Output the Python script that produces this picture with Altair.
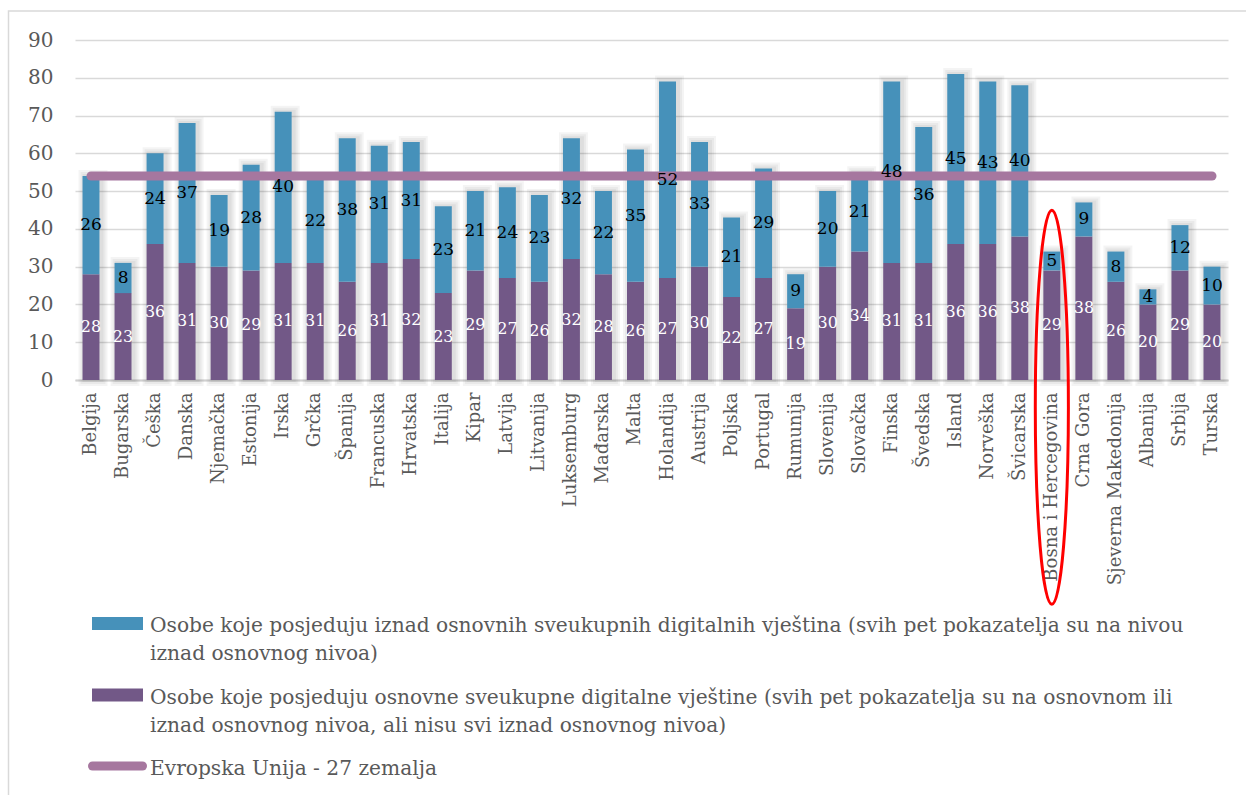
import altair as alt
import pandas as pd

countries = ["Belgija", "Bugarska", "Češka", "Danska", "Njemačka", "Estonija", "Irska",
             "Grčka", "Španija", "Francuska", "Hrvatska", "Italija", "Kipar", "Latvija",
             "Litvanija", "Luksemburg", "Mađarska", "Malta", "Holandija", "Austrija",
             "Poljska", "Portugal", "Rumunija", "Slovenija", "Slovačka", "Finska", "Švedska",
             "Island", "Norveška", "Švicarska", "Bosna i Hercegovina", "Crna Gora",
             "Sjeverna Makedonija", "Albanija", "Srbija", "Turska"]
basic = [28, 23, 36, 31, 30, 29, 31, 31, 26, 31, 32, 23, 29, 27, 26, 32, 28, 26, 27, 30,
         22, 27, 19, 30, 34, 31, 31, 36, 36, 38, 29, 38, 26, 20, 29, 20]
above = [26, 8, 24, 37, 19, 28, 40, 22, 38, 31, 31, 23, 21, 24, 23, 32, 22, 35, 52, 33,
         21, 29, 9, 20, 21, 48, 36, 45, 43, 40, 5, 9, 8, 4, 12, 10]
EU_AVG = 54
highlight = ["Bosna i Hercegovina"]
highlight_center = [-7.2]
y_ticks = [0, 10, 20, 30, 40, 50, 60, 70, 80, 90]

legend_labels = [
    "Osobe koje posjeduju iznad osnovnih sveukupnih digitalnih vještina (svih pet pokazatelja su na nivou|iznad osnovnog nivoa)",
    "Osobe koje posjeduju osnovne sveukupne digitalne vještine (svih pet pokazatelja su na osnovnom ili|iznad osnovnog nivoa, ali nisu svi iznad osnovnog nivoa)",
    "Evropska Unija - 27 zemalja",
]
legend_kind = ["bar", "bar", "line"]

BLUE = "#4691BA"
PURPLE = "#725887"
LINE = "#A6779F"
GRAY = "#595959"
FONT = "DejaVu Serif"

df = pd.DataFrame({"country": countries, "basic": basic, "above": above,
                   "eu": [EU_AVG] * len(countries)})
legend_df = pd.DataFrame({"row": [0, 1, 2], "label": legend_labels, "kind": legend_kind,
                          "color": [BLUE, PURPLE, LINE]})
hl_df = pd.DataFrame({"country": highlight, "yc": highlight_center})

x_enc = alt.X("country:N", sort=countries,
              scale=alt.Scale(paddingInner=0.47, paddingOuter=0.235),
              axis=alt.Axis(title=None, labelAngle=-90, ticks=False, labelPadding=12,
                            labelFont=FONT, labelFontSize=18, labelColor=GRAY,
                            labelLimit=400, labelOverlap=False,
                            domainColor="#D0D0D0", domainWidth=2))
y_scale = alt.Scale(domain=[0, 90], nice=False, zero=True)
y_axis = alt.Axis(title=None, values=y_ticks, ticks=False, domain=False,
                  labelPadding=22, labelFont=FONT, labelFontSize=20, labelColor=GRAY,
                  labelOverlap=False, gridColor="#D9D9D9", gridWidth=1.5)


def Y(field):
    return alt.Y(field, scale=y_scale, axis=y_axis)


base = alt.Chart(df).transform_calculate(
    top="datum.basic + datum.above",
    mid_basic="datum.basic / 2",
    mid_above="datum.basic + datum.above / 2",
)

shadows = [
    base.mark_bar(fillOpacity=0, stroke="#000000", strokeOpacity=0.045, strokeWidth=w,
                  xOffset=2).encode(x=x_enc, y=Y("top:Q"))
    for w in (12, 8, 4)
]
bars_basic = base.mark_bar(color=PURPLE).encode(x=x_enc, y=Y("basic:Q"))
bars_above = base.mark_bar(color=BLUE).encode(x=x_enc, y=Y("basic:Q"), y2="top:Q")
eu_line = base.mark_line(color=LINE, strokeWidth=9, strokeCap="round").encode(
    x=x_enc, y=Y("eu:Q"))
lab_basic = base.mark_text(color="white", font=FONT, fontSize=16, baseline="middle").encode(
    x=x_enc, y=Y("mid_basic:Q"), text="basic:Q")
lab_above = base.mark_text(color="black", font=FONT, fontSize=17, baseline="middle").encode(
    x=x_enc, y=Y("mid_above:Q"), text="above:Q")

ELLIPSE = "M0,-1A0.084,1,0,1,1,0,1A0.084,1,0,1,1,0,-1Z"
ellipse = alt.Chart(hl_df).mark_point(shape=ELLIPSE, size=155236, filled=False,
                                      color="#FF0000", strokeWidth=3, opacity=1).encode(
    x=x_enc, y=Y("yc:Q"))

main = alt.layer(*shadows, bars_basic, bars_above, eu_line, lab_basic, lab_above, ellipse)

ly = alt.Y("row:Q", scale=alt.Scale(domain=[0, 2], range=[592, 735]), axis=None)
leg_base = alt.Chart(legend_df)
leg_rect = leg_base.transform_filter("datum.kind == 'bar'").mark_rect(
    yOffset=-15, y2Offset=-2).encode(
    x=alt.value(17), x2=alt.value(68), y=ly, y2="row:Q",
    color=alt.Color("color:N", scale=None))
leg_line = leg_base.transform_filter("datum.kind == 'line'").mark_rule(
    strokeWidth=9, strokeCap="round", yOffset=-9).encode(
    x=alt.value(17.5), x2=alt.value(67.5), y=ly,
    color=alt.Color("color:N", scale=None))
leg_text = leg_base.mark_text(align="left", baseline="alphabetic", lineBreak="|",
                              lineHeight=28, font=FONT, fontSize=20.2, color=GRAY).encode(
    x=alt.value(75), y=ly, text="label:N")
frame = alt.Chart(pd.DataFrame({"a": [0]})).mark_rect(
    fillOpacity=0, stroke="#D9D9D9", strokeWidth=1.5).encode(
    x=alt.value(-66.5), x2=alt.value(1300), y=alt.value(-29), y2=alt.value(900))

legend = alt.layer(frame, leg_rect, leg_line, leg_text)

chart = alt.layer(main, legend).resolve_scale(y="independent").properties(
    width=1153, height=340,
    autosize=alt.AutoSizeParams(type="none"),
    padding={"left": 75, "top": 40, "right": 18, "bottom": 415},
    background="white",
).configure_view(strokeWidth=0)

chart.save("out.html", embed_options={"renderer": "svg", "actions": False})
